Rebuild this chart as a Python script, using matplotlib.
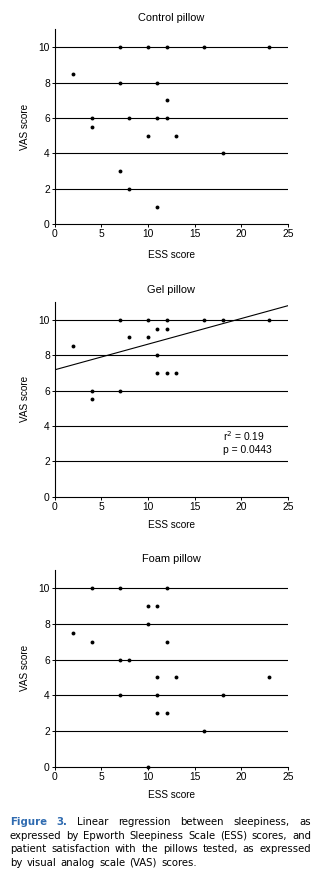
import matplotlib
matplotlib.use("Agg")
import matplotlib.pyplot as plt
import numpy as np

# ESS (x) and VAS (y) scores for each pillow
control_ess = [7, 10, 12, 16, 23, 2, 7, 11, 12, 4, 8, 11, 12, 4, 10, 13, 18, 7, 8, 11]
control_vas = [10, 10, 10, 10, 10, 8.5, 8, 8, 7, 6, 6, 6, 6, 5.5, 5, 5, 4, 3, 2, 1]

gel_ess = [7, 10, 12, 16, 18, 23, 11, 12, 8, 10, 2, 11, 11, 12, 13, 4, 7, 4]
gel_vas = [10, 10, 10, 10, 10, 10, 9.5, 9.5, 9, 9, 8.5, 8, 7, 7, 7, 6, 6, 5.5]

foam_ess = [4, 7, 12, 10, 11, 10, 2, 4, 12, 7, 8, 11, 13, 23, 7, 11, 18, 11, 12, 16, 10]
foam_vas = [10, 10, 10, 9, 9, 8, 7.5, 7, 7, 6, 6, 5, 5, 5, 4, 4, 4, 3, 3, 2, 0]

# Regression line for the gel pillow
gel_intercept = 7.17
gel_slope = 0.145
gel_r2 = "0.19"
gel_p = "0.0443"

titles = ["Control pillow", "Gel pillow", "Foam pillow"]
x_ticks = [0, 5, 10, 15, 20, 25]
y_ticks = [0, 2, 4, 6, 8, 10]

W, H = 332, 888
fig = plt.figure(figsize=(W / 100, H / 100), dpi=100)
fig.patch.set_facecolor("white")

chart_font = "Liberation Sans"
tick_fs = 7.4
title_fs = 7.9
label_fs = 7.2

# pixel boxes: (left, top, right, bottom)
boxes = [(54.7, 29.0, 288.0, 224.3),
         (54.7, 301.7, 288.0, 496.7),
         (54.7, 570.0, 288.0, 766.7)]
datasets = [(control_ess, control_vas), (gel_ess, gel_vas), (foam_ess, foam_vas)]
xlabel_pads = [8, 6, 6]

axes = []
for (l, t, r, b), (xs, ys), title, lp in zip(boxes, datasets, titles, xlabel_pads):
    ax = fig.add_axes([l / W, 1 - b / H, (r - l) / W, (b - t) / H])
    ax.set_xlim(0, 25)
    ax.set_ylim(0, 11.02)
    for s in ["top", "right"]:
        ax.spines[s].set_visible(False)
    for s in ["left", "bottom"]:
        ax.spines[s].set_linewidth(0.8)
        ax.spines[s].set_color("black")
    for yv in y_ticks[1:]:
        ax.axhline(yv, color="black", lw=0.8, zorder=1)
    ax.set_xticks(x_ticks)
    ax.set_yticks(y_ticks)
    ax.tick_params(direction="out", length=2, width=0.7, pad=1.5,
                   labelsize=tick_fs, colors="black")
    for lab in ax.get_xticklabels() + ax.get_yticklabels():
        lab.set_fontfamily(chart_font)
    ax.plot(xs, ys, "o", color="black", ms=2.8, mew=0, zorder=3, clip_on=False)
    ax.set_title(title, fontsize=title_fs, fontfamily=chart_font, pad=6)
    ax.set_xlabel("ESS score", fontsize=label_fs, fontfamily=chart_font, labelpad=lp)
    ax.set_ylabel("VAS score", fontsize=label_fs, fontfamily=chart_font, labelpad=6)
    axes.append(ax)

# Gel regression line
gx = np.array([0, 25])
axes[1].plot(gx, gel_intercept + gel_slope * gx, color="black", lw=0.8, zorder=2)
axes[1].text(18.0, 3.4, "r$^2$ = " + gel_r2, fontsize=tick_fs, fontfamily=chart_font, va="center")
axes[1].text(18.0, 2.65, "p = " + gel_p, fontsize=tick_fs, fontfamily=chart_font, va="center")

# Caption with justified lines
cap_font = "DejaVu Sans"
cap_fs = 7.3
blue = "#2f6bb0"
lines = [
    [("Figure", True), ("3.", True), ("Linear", False), ("regression", False), ("between", False),
     ("sleepiness,", False), ("as", False)],
    [(w, False) for w in "expressed by Epworth Sleepiness Scale (ESS) scores, and".split()],
    [(w, False) for w in "patient satisfaction with the pillows tested, as expressed".split()],
    [(w, False) for w in "by visual analog scale (VAS) scores.".split()],
]
x0, x1 = 10.0, 311.0
y_lines = [821.5, 835.5, 849.0, 862.5]

fig.canvas.draw()
renderer = fig.canvas.get_renderer()

sp = fig.text(0, 0, "a b", fontsize=cap_fs, fontfamily=cap_font)
sp2 = fig.text(0, 0, "ab", fontsize=cap_fs, fontfamily=cap_font)
space_w = sp.get_window_extent(renderer).width - sp2.get_window_extent(renderer).width
sp.remove()
sp2.remove()

for li, (words, yp) in enumerate(zip(lines, y_lines)):
    items = []
    widths = []
    for w, bold in words:
        t = fig.text(0, 1 - yp / H, w, fontsize=cap_fs, fontfamily=cap_font,
                     fontweight="bold" if bold else "normal",
                     color=blue if bold else "black", va="center", ha="left")
        bb = t.get_window_extent(renderer)
        items.append(t)
        widths.append(bb.width)
    total = sum(widths)
    if li < len(lines) - 1:
        gap = max((x1 - x0 - total) / (len(words) - 1), space_w * 0.6)
    else:
        gap = space_w * 1.3
    xp = x0
    for t, wd in zip(items, widths):
        t.set_x(xp / W)
        xp += wd + gap

fig.savefig("out.png", dpi=100, facecolor="white")
